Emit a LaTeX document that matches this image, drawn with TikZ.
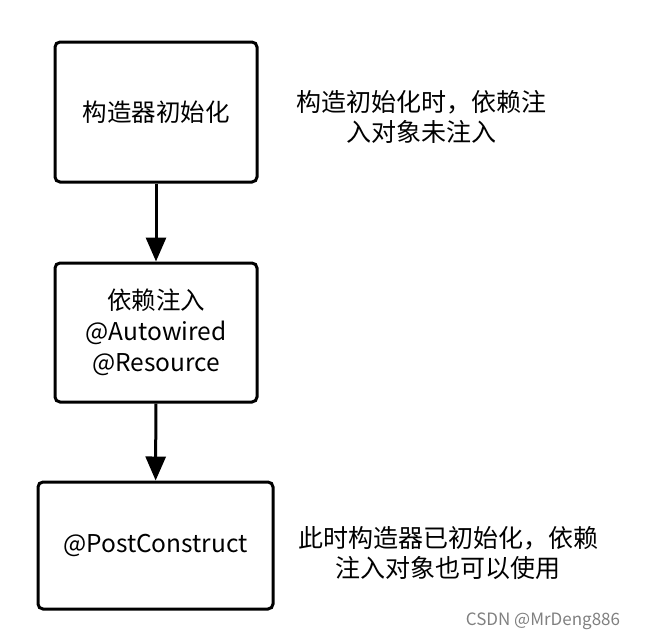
\documentclass[tikz,border=0pt]{standalone}
\usepackage{fontspec}
\setmainfont{Noto Sans CJK SC}
\usetikzlibrary{arrows.meta}
\begin{document}
\begin{tikzpicture}[x=1pt,y=-1pt,
  box/.style={draw=black,line width=3pt,rounded corners=5pt,align=center,font=\fontsize{24.5}{31}\selectfont},
  lbl/.style={align=center,font=\fontsize{25}{30}\selectfont},
  arr/.style={line width=3pt,-{Triangle[width=20pt,length=24pt]}}]
\useasboundingbox (0,0) rectangle (646,641);
\node[box,minimum width=202pt,minimum height=140pt] (a) at (156,112) {构造器初始化};
\node[box,minimum width=202pt,minimum height=139pt] (b) at (156,332.5) {依赖注入\\@Autowired\\@Resource};
\node[box,minimum width=235pt,minimum height=127pt] (c) at (155.5,545.5) {@PostConstruct};
\draw[arr] (a) -- (b);
\draw[arr] (b) -- (c);
\node[lbl] (t1) at (421,117) {构造初始化时，依赖注\\入对象未注入};
\node[lbl] (t2) at (448,553) {此时构造器已初始化，依赖\\注入对象也可以使用};
\node[font=\fontsize{17}{20}\selectfont,text=gray] (w) at (543,621) {CSDN @MrDeng886};
\end{tikzpicture}
\end{document}
